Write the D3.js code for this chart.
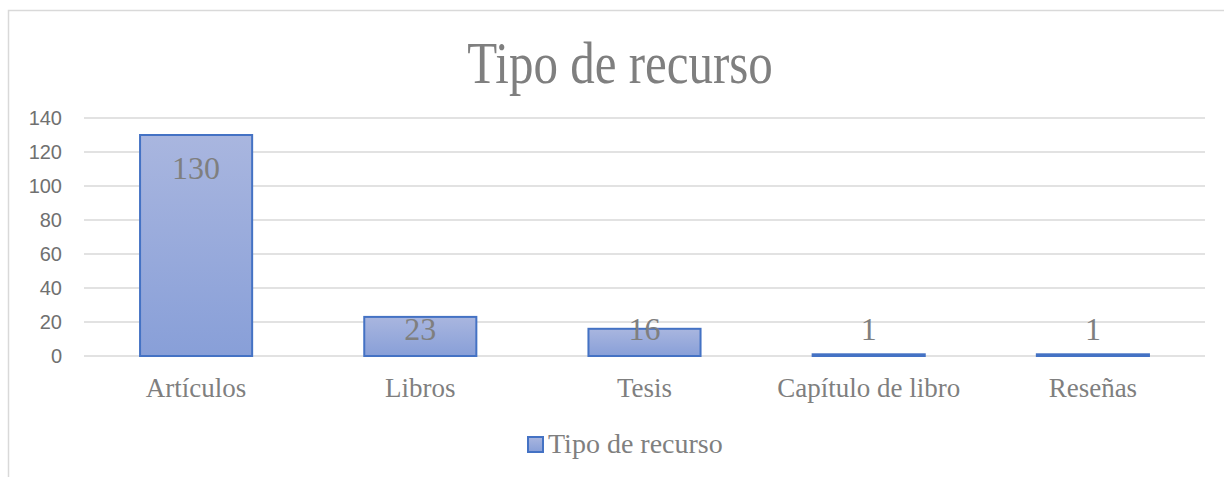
<!DOCTYPE html>
<html>
<head>
<meta charset="utf-8">
<script src="https://cdn.jsdelivr.net/npm/d3@7"></script>
<style>
  body { margin: 0; background: #fff; }
  svg { display: block; }
</style>
</head>
<body>
<div id="chart"></div>
<script>
// data
var categories = ["Artículos", "Libros", "Tesis", "Capítulo de libro", "Reseñas"];
var values = [130, 23, 16, 1, 1];
var seriesName = "Tipo de recurso";
var yTicks = [0, 20, 40, 60, 80, 100, 120, 140];

var width = 1224,
    height = 477,
    margin = {top: 118, right: 19, bottom: 121, left: 84};

var serif = "'Liberation Serif', 'Times New Roman', serif";

var svg = d3.select("#chart").append("svg")
  .attr("width", width)
  .attr("height", height);

var defs = svg.append("defs");
var grad = defs.append("linearGradient")
  .attr("id", "barGrad")
  .attr("x1", 0).attr("y1", 0).attr("x2", 0).attr("y2", 1);
grad.append("stop").attr("offset", "0%").attr("stop-color", "#a9b6df");
grad.append("stop").attr("offset", "100%").attr("stop-color", "#889fd8");

// chart area border (only top and left visible)
svg.append("path")
  .attr("d", "M8.5,477 L8.5,10.5 L1224,10.5")
  .style("fill", "none")
  .style("stroke", "#d9d9d9")
  .style("stroke-width", 1.5);

// title (slightly tall glyphs in the original)
svg.append("text")
  .attr("transform", "translate(620,83) scale(1,1.22)")
  .style("text-anchor", "middle")
  .style("font", "49px " + serif)
  .style("fill", "#7f7f7f")
  .text(seriesName);

var x = d3.scaleBand()
  .domain(categories)
  .range([margin.left, width - margin.right])
  .paddingInner(0.5)
  .paddingOuter(0.25);

var y = d3.scaleLinear()
  .domain([0, 140])
  .range([height - margin.bottom, margin.top]);

// gridlines
svg.append("g")
  .selectAll("line")
  .data(yTicks)
  .enter()
  .append("line")
  .attr("x1", margin.left)
  .attr("x2", width - margin.right)
  .attr("y1", d => y(d))
  .attr("y2", d => y(d))
  .style("stroke", "#d9d9d9")
  .style("stroke-width", 1.5);

// y axis labels
var yAxis = d3.axisLeft(y).tickValues(yTicks).tickSize(0).tickPadding(0);
var gy = svg.append("g")
  .attr("transform", "translate(62,0)")
  .call(yAxis);
gy.select(".domain").remove();
gy.selectAll("text")
  .style("font", "20px 'Liberation Sans', Arial, sans-serif")
  .style("fill", "#707070");

// bars
svg.append("g")
  .selectAll("rect")
  .data(values)
  .enter()
  .append("rect")
  .attr("x", (d, i) => x(categories[i]))
  .attr("y", d => y(d))
  .attr("width", x.bandwidth())
  .attr("height", d => y(0) - y(d))
  .style("fill", "url(#barGrad)")
  .style("stroke", "#4472c4")
  .style("stroke-width", 2);

// data labels
svg.append("g")
  .selectAll("text")
  .data(values)
  .enter()
  .append("text")
  .attr("x", (d, i) => x(categories[i]) + x.bandwidth() / 2)
  .attr("y", d => Math.min(y(d) + 44, y(0) - 16))
  .style("text-anchor", "middle")
  .style("font", "32px " + serif)
  .style("fill", "#7f7f7f")
  .text(d => d);

// category labels
svg.append("g")
  .selectAll("text")
  .data(categories)
  .enter()
  .append("text")
  .attr("x", d => x(d) + x.bandwidth() / 2)
  .attr("y", 397)
  .style("text-anchor", "middle")
  .style("font", "27px " + serif)
  .style("fill", "#7f7f7f")
  .text(d => d);

// legend
var legend = svg.append("g").attr("transform", "translate(528,435)");
legend.append("rect")
  .attr("x", 0).attr("y", 2)
  .attr("width", 15).attr("height", 15)
  .style("fill", "url(#barGrad)")
  .style("stroke", "#4472c4")
  .style("stroke-width", 2);
legend.append("text")
  .attr("x", 20)
  .attr("y", 18)
  .style("font", "28px " + serif)
  .style("fill", "#7f7f7f")
  .text(seriesName);
</script>
</body>
</html>
